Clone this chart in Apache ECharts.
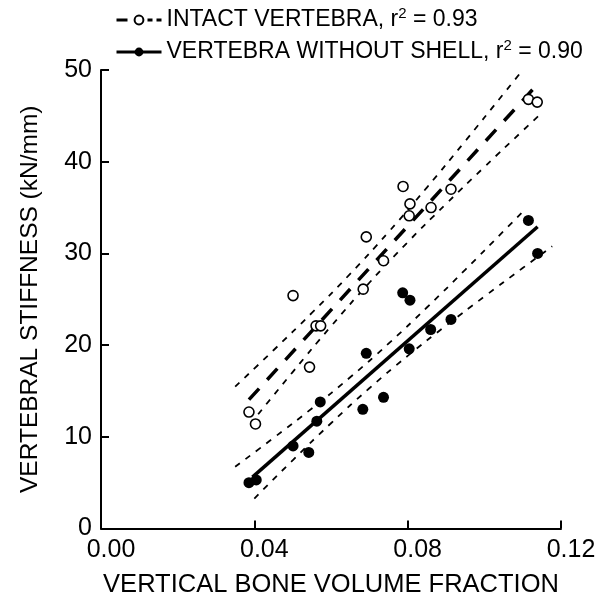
<!DOCTYPE html>
<html><head><meta charset="utf-8">
<script src="https://cdn.jsdelivr.net/npm/echarts@6/dist/echarts.min.js"></script>
<style>html,body{margin:0;padding:0;background:#fff}#c{width:602px;height:605px}</style>
</head><body><div id="c"></div>
<script>
// ---- data ----
const seriesNames = ['INTACT VERTEBRA', 'VERTEBRA WITHOUT SHELL'];
const rSquared = ['0.93', '0.90'];
const xTickValues = [0.00, 0.04, 0.08, 0.12];
const yTickValues = [0, 10, 20, 30, 40, 50];

const intactX = [0.0386, 0.0403, 0.0501, 0.0544, 0.0561, 0.0573, 0.0684, 0.0692, 0.0737, 0.0788, 0.0804, 0.0806, 0.0861, 0.0913, 0.1115, 0.1138];
const intactY = [12.7, 11.4, 25.4, 17.6, 22.1, 22.1, 26.1, 31.8, 29.2, 37.3, 34.1, 35.4, 35.0, 37.0, 46.8, 46.5];

const shellX = [0.0386, 0.0405, 0.0501, 0.0542, 0.0563, 0.0572, 0.0683, 0.0692, 0.0737, 0.0787, 0.0804, 0.0806, 0.0860, 0.0913, 0.1115, 0.1139];
const shellY = [5.0, 5.3, 9.0, 8.3, 11.7, 13.8, 13.0, 19.1, 14.3, 25.7, 19.6, 24.9, 21.7, 22.8, 33.6, 30.0];

const intactFitX = [0.0386, 0.1140];
const intactFitY = [14.05, 48.5];
const shellFitX = [0.0395, 0.1139];
const shellFitY = [5.6, 32.9];

const intactUpperX = [0.035, 0.045, 0.055, 0.065, 0.075, 0.085, 0.095, 0.105, 0.110];
const intactUpperY = [15.47, 19.44, 23.51, 27.77, 32.32, 37.18, 42.24, 47.40, 49.99];
const intactLowerX = [0.041, 0.050, 0.060, 0.070, 0.080, 0.090, 0.100, 0.110, 0.114];
const intactLowerY = [12.46, 17.06, 22.05, 26.80, 31.22, 35.39, 39.42, 43.37, 44.94];

const shellUpperX = [0.035, 0.045, 0.055, 0.065, 0.075, 0.085, 0.095, 0.105, 0.110];
const shellUpperY = [6.73, 9.87, 13.09, 16.49, 20.16, 24.10, 28.21, 32.42, 34.54];
const shellLowerX = [0.040, 0.050, 0.060, 0.070, 0.080, 0.090, 0.100, 0.110, 0.1177];
const shellLowerY = [3.27, 7.44, 11.48, 15.29, 18.82, 22.12, 25.29, 28.40, 30.77];

// ---- helpers ----
const pairs = (xs, ys) => xs.map((x, i) => [x, ys[i]]);
const FONT = '"Liberation Sans", Arial, Helvetica, sans-serif';
const bandStyle = { color: '#000', width: 1.8, type: [6, 7] };
function band(xs, ys) {
  return { type: 'line', data: pairs(xs, ys), smooth: true, showSymbol: false, symbol: 'none',
           lineStyle: bandStyle, silent: true, z: 2, animation: false };
}

const chart = echarts.init(document.getElementById('c'), null, { renderer: 'canvas' });
chart.setOption({
  animation: false,
  backgroundColor: '#fff',
  grid: { left: 101, right: 41, top: 70, bottom: 76.5, containLabel: false },
  legend: {
    data: [
      { name: seriesNames[0], lineStyle: { type: [11, 20, 5, 4, 5, 10], width: 3 } },
      { name: seriesNames[1], lineStyle: { width: 3 } }
    ],
    orient: 'vertical',
    left: 115, top: 6, padding: 0,
    itemWidth: 45, itemHeight: 11, itemGap: 4,
    selectedMode: false,
    formatter: name => name + ', r{sup|2} = ' + rSquared[seriesNames.indexOf(name)],
    textStyle: {
      fontFamily: FONT, fontSize: 23, color: '#000', lineHeight: 28,
      rich: { sup: { fontFamily: FONT, fontSize: 15, lineHeight: 15, verticalAlign: 'top', color: '#000' } }
    }
  },
  xAxis: {
    type: 'value', min: 0, max: 0.12, interval: 0.04,
    name: 'VERTICAL BONE VOLUME FRACTION', nameLocation: 'middle', nameGap: 43,
    nameTextStyle: { fontFamily: FONT, fontSize: 25.5, color: '#000' },
    axisLine: { show: true, lineStyle: { color: '#000', width: 2 } },
    axisTick: { show: true, inside: true, length: 8, lineStyle: { color: '#000', width: 2 } },
    splitLine: { show: false },
    axisLabel: {
      fontFamily: FONT, fontSize: 25, color: '#000', margin: 9,
      padding: [0, 0, 0, 20],
      formatter: v => xTickValues.includes(+v.toFixed(2)) ? v.toFixed(2) : ''
    }
  },
  yAxis: {
    type: 'value', min: 0, max: 50, interval: 10,
    name: 'VERTEBRAL STIFFNESS (kN/mm)', nameLocation: 'middle', nameGap: 58,
    nameTextStyle: { fontFamily: FONT, fontSize: 24.5, color: '#000' },
    axisLine: { show: true, lineStyle: { color: '#000', width: 2 } },
    axisTick: { show: true, inside: true, length: 8, lineStyle: { color: '#000', width: 2 } },
    splitLine: { show: false },
    axisLabel: {
      fontFamily: FONT, fontSize: 25, color: '#000', margin: 9,
      formatter: v => yTickValues.includes(v) ? String(v) : ''
    }
  },
  series: [
    band(intactUpperX, intactUpperY),
    band(intactLowerX, intactLowerY),
    band(shellUpperX, shellUpperY),
    band(shellLowerX, shellLowerY),
    {
      name: seriesNames[0], type: 'line', data: pairs(intactFitX, intactFitY),
      showSymbol: false, symbol: 'circle', symbolSize: 9, z: 3,
      lineStyle: { color: '#000', width: 3.5, type: [15, 12] },
      itemStyle: { color: '#fff', borderColor: '#000', borderWidth: 1.6 }
    },
    {
      name: seriesNames[1], type: 'line', data: pairs(shellFitX, shellFitY),
      showSymbol: false, symbol: 'circle', symbolSize: 9, z: 3,
      lineStyle: { color: '#000', width: 3.5, type: 'solid' },
      itemStyle: { color: '#000', borderColor: '#000', borderWidth: 0 }
    },
    {
      type: 'scatter', data: pairs(intactX, intactY), symbol: 'circle', symbolSize: 10, z: 5,
      itemStyle: { color: '#fff', borderColor: '#000', borderWidth: 1.6, opacity: 1 }
    },
    {
      type: 'scatter', data: pairs(shellX, shellY), symbol: 'circle', symbolSize: 11, z: 5,
      itemStyle: { color: '#000', opacity: 1 }
    }
  ]
});
</script></body></html>
